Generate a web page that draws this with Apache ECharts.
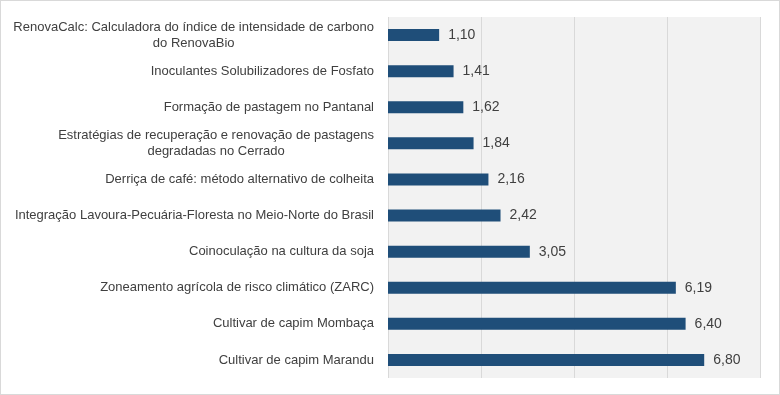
<!DOCTYPE html>
<html>
<head>
<meta charset="utf-8">
<script src="https://cdn.jsdelivr.net/npm/echarts@6/dist/echarts.min.js"></script>
<style>
html,body{margin:0;padding:0;background:#fff;}
#c{width:780px;height:395px;box-sizing:border-box;border:1px solid #d9d9d9;}
</style>
</head>
<body>
<div id="c"></div>
<script>
var categories = [
  "RenovaCalc: Calculadora do índice de intensidade de carbono\ndo RenovaBio",
  "Inoculantes Solubilizadores de Fosfato",
  "Formação de pastagem no Pantanal",
  "Estratégias de recuperação e renovação de pastagens\ndegradadas no Cerrado",
  "Derriça de café: método alternativo de colheita",
  "Integração Lavoura-Pecuária-Floresta no Meio-Norte do Brasil",
  "Coinoculação na cultura da soja",
  "Zoneamento agrícola de risco climático (ZARC)",
  "Cultivar de capim Mombaça",
  "Cultivar de capim Marandu"
];
var values = [1.10, 1.41, 1.62, 1.84, 2.16, 2.42, 3.05, 6.19, 6.40, 6.80];
var axisMin = 0, axisMax = 8, axisInterval = 2;

var chart = echarts.init(document.getElementById('c'), null, {renderer: 'canvas'});
chart.setOption({
  animation: false,
  grid: {left: 387, right: 19, top: 16, bottom: 16, show: true, backgroundColor: '#f2f2f2', borderWidth: 0},
  xAxis: {
    type: 'value', min: axisMin, max: axisMax, interval: axisInterval,
    axisLabel: {show: false}, axisLine: {show: false}, axisTick: {show: false},
    splitLine: {show: true, lineStyle: {color: '#d9d9d9', width: 1}}
  },
  yAxis: {
    type: 'category', data: categories, inverse: true,
    axisLine: {show: false}, axisTick: {show: false},
    axisLabel: {
      margin: 14, color: '#404040', fontFamily: 'Liberation Sans', fontSize: 13, lineHeight: 16,
      formatter: function (v) {
        return v.split('\n').map(function (s) { return '{c|' + s + '}'; }).join('\n');
      },
      rich: {c: {align: 'center', color: '#404040', fontFamily: 'Liberation Sans', fontSize: 13, lineHeight: 16}}
    }
  },
  series: [{
    type: 'bar', data: values, barWidth: 12,
    itemStyle: {color: '#1f4e79'},
    label: {
      show: true, position: 'right', distance: 9, color: '#404040',
      fontFamily: 'Liberation Sans', fontSize: 14,
      formatter: function (p) { return p.value.toFixed(2).replace('.', ','); }
    }
  }]
});
</script>
</body>
</html>
